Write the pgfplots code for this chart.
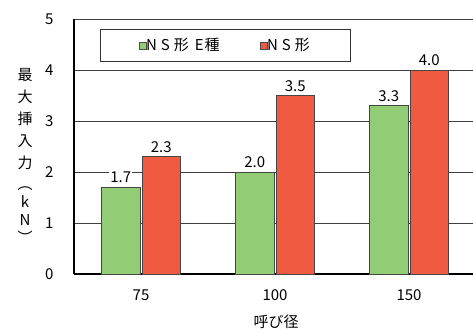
\documentclass[border=0pt]{standalone}
\usepackage{pgfplots}
\pgfplotsset{compat=1.18}
\usepackage{fontspec}
\setmainfont{Noto Sans CJK JP}
\definecolor{cgreen}{RGB}{146,205,118}
\definecolor{cred}{RGB}{240,90,64}
\definecolor{cedge}{RGB}{70,70,70}
\begin{document}
\begin{tikzpicture}[x=1pt,y=1pt]
\path[use as bounding box] (0pt,0pt) rectangle (473pt,-330pt);
\begin{axis}[
  at={(74pt,-274pt)}, anchor=south west,
  scale only axis, width=402pt, height=255pt,
  xmin=-0.5, xmax=2.5, ymin=0, ymax=5,
  ybar, bar width=38.5pt, bar shift auto,
  xtick={0,1,2}, xticklabels={75,100,150},
  extra x ticks={0.5,1.5}, extra x tick labels={},
  extra x tick style={major tick length=5pt, tick style={draw=black!70}, grid=none},
  xtick style={draw=none},
  ytick={0,1,...,5}, ymajorgrids,
  grid style={draw=black!75, line width=0.6pt},
  ytick style={draw=none},
  axis x line*=bottom, axis y line*=left,
  axis line style={line width=1.2pt, -},
  tick label style={font=\fontsize{15}{15}\selectfont},
  /pgf/number format/assume math mode=true,
  yticklabel style={xshift=-17pt},
  xticklabel style={yshift=-8pt},
  nodes near coords,
  nodes near coords style={font=\fontsize{15}{15}\selectfont, /pgf/number format/fixed, /pgf/number format/fixed zerofill, /pgf/number format/precision=1, /pgf/number format/assume math mode=true, yshift=3pt, fill=white, inner sep=1pt},
  legend style={at={(0.065,0.961)}, anchor=north west, draw=black!80, line width=0.8pt,
    font=\fontsize{15}{15}\selectfont, legend columns=2, inner xsep=38pt, inner ysep=7pt,
    /tikz/every even column/.append style={column sep=38pt},
    },
  legend cell align=left,
  legend image code/.code={\draw[#1, draw=black!70, line width=0.5pt] (0pt,-3.5pt) rectangle (7pt,3.5pt);},
  clip=false,
]
\addplot[fill=cgreen, draw=cedge, line width=0.6pt] coordinates {(0,1.7) (1,2.0) (2,3.3)};
\addplot[fill=cred, draw=cedge, line width=0.6pt] coordinates {(0,2.3) (1,3.5) (2,4.0)};
\legend{\hspace*{-2pt}N\hspace{4pt}S\hspace{4pt}形\hspace{6pt}E\hspace{1pt}種, \hspace*{-2pt}N\hspace{4pt}S\hspace{4pt}形}
\end{axis}
\node[font=\fontsize{15}{21}\selectfont, align=center, inner sep=0pt, anchor=north] at (25pt,-68pt)
 {最\\[1pt]大\\[1pt]挿\\[1pt]入\\[1pt]力\\[0pt]︵\\[-3pt]k\\[-3pt]N\\[-3pt]︶};
\node[font=\fontsize{15}{15}\selectfont] at (276pt,-322pt) {呼び径};
\end{tikzpicture}
\end{document}
